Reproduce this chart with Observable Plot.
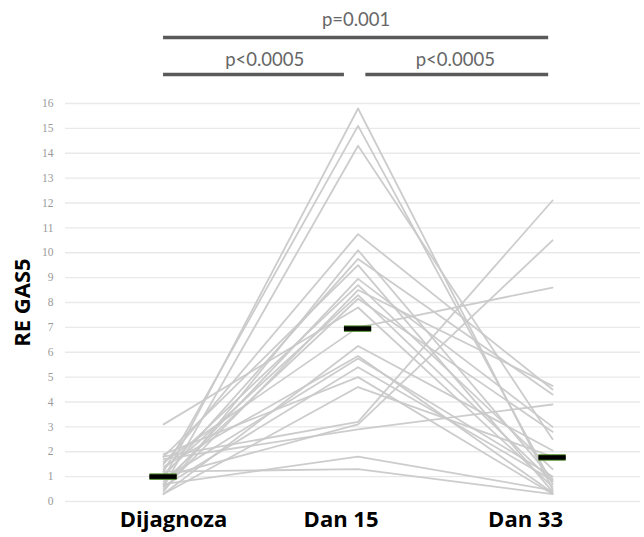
<!DOCTYPE html>
<html>
<head>
<meta charset="utf-8">
<script src="https://cdn.jsdelivr.net/npm/d3@7"></script>
<script src="https://cdn.jsdelivr.net/npm/@observablehq/plot@0.6"></script>
<style>
  html, body { margin: 0; padding: 0; background: #fff; }
  #chart svg { display: block; }
</style>
</head>
<body>
<div id="chart"></div>
<script>
const categories = ["Dijagnoza", "Dan 15", "Dan 33"];
const dijagnoza = [0.9, 1.2, 0.6, 1.5, 0.4, 1.0, 1.8, 0.7, 1.3, 0.5, 1.1, 0.8, 3.1, 1.6, 0.3, 1.4, 0.9, 0.6, 1.9, 0.3, 1.8, 1.0, 0.7, 1.2, 1.7];
const dan15     = [15.8, 15.1, 14.3, 10.75, 10.1, 9.75, 9.5, 8.95, 8.7, 8.5, 8.3, 8.15, 7.8, 7.0, 6.25, 5.85, 5.75, 5.4, 5.0, 4.6, 3.2, 3.1, 1.8, 1.3, 2.9];
const dan33     = [0.5, 0.7, 2.5, 4.5, 0.9, 4.3, 0.4, 3.0, 1.3, 4.65, 0.8, 2.8, 0.6, 8.6, 2.05, 0.35, 1.0, 0.85, 0.3, 1.8, 12.1, 10.5, 0.45, 0.3, 3.9];
const medians   = [1.0, 6.95, 1.77];
const yTicks    = [0,1,2,3,4,5,6,7,8,9,10,11,12,13,14,15,16];
const yLabel    = "RE GAS5";
const pLabels   = ["p=0.001", "p<0.0005", "p<0.0005"];

const series = [dijagnoza, dan15, dan33];
const rows = [];
dijagnoza.forEach((_, i) => {
  series.forEach((s, k) => rows.push({subject: i, x: k, value: s[i]}));
});
const medRows = medians.map((v, k) => ({x1: k - 0.07, x2: k + 0.07, y: v}));

// bracket annotations (in data units above the plot area)
const brackets = [
  {x1: 0, x2: 1.98, y: 18.65},
  {x1: 0, x2: 0.93, y: 17.17},
  {x1: 1.04, x2: 1.98, y: 17.17}
];
const pTexts = [
  {x: 0.99, y: 19.34, t: pLabels[0]},
  {x: 0.52, y: 17.75, t: pLabels[1]},
  {x: 1.50, y: 17.75, t: pLabels[2]}
];
const labelDx = [10, -17, -27];

const catAxes = categories.map((c, k) => Plot.axisX([k], {
  tickFormat: () => c,
  tickSize: 0,
  tickPadding: 10,
  dx: labelDx[k],
  fontSize: 22,
  fontWeight: "bold",
  fill: "#000",
  label: null
}));

const chart = Plot.plot({
  width: 644,
  height: 537,
  marginTop: 103,
  marginBottom: 36,
  marginLeft: 65,
  marginRight: 4,
  style: {fontFamily: "'Open Sans', sans-serif", background: "#fff", overflow: "visible"},
  x: {type: "linear", domain: [-0.504, 2.452], axis: null},
  y: {domain: [0, 16], axis: null},
  marks: [
    Plot.ruleY(yTicks, {stroke: "#e9e9e9", strokeWidth: 1.3}),
    Plot.axisY(yTicks, {
      tickSize: 0, tickPadding: 12, fontSize: 11.5, fill: "#9a9a9a",
      fontFamily: "'Liberation Serif', serif", label: null
    }),
    Plot.line(rows, {x: "x", y: "value", z: "subject", stroke: "#c9c9c9", strokeWidth: 1.8, strokeOpacity: 0.95}),
    Plot.ruleY(medRows, {x1: "x1", x2: "x2", y: "y", stroke: "#4f8a2a", strokeWidth: 6.5}),
    Plot.ruleY(medRows, {x1: "x1", x2: "x2", y: "y", stroke: "#000", strokeWidth: 4.5}),
    Plot.ruleY(brackets, {x1: "x1", x2: "x2", y: "y", stroke: "#5a5a5a", strokeWidth: 3.5}),
    Plot.text(pTexts, {x: "x", y: "y", text: "t", fill: "#666", fontSize: 18.5, fontFamily: "Lato, sans-serif"}),
    Plot.text([yLabel], {frameAnchor: "left", dx: -43, rotate: -90, textAnchor: "middle", text: d => d, fontSize: 22, fontWeight: "bold", fill: "#000"}),
    ...catAxes
  ]
});
document.getElementById("chart").appendChild(chart);
</script>
</body>
</html>
